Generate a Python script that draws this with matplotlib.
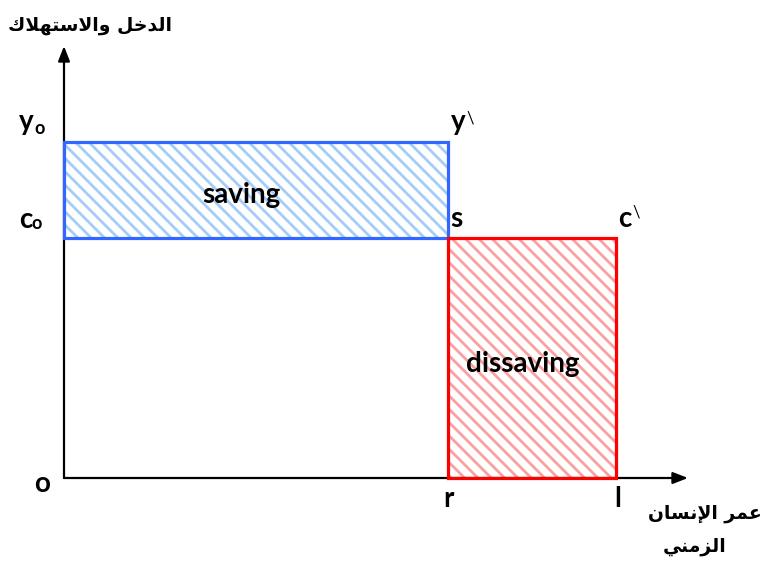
import matplotlib
matplotlib.use("Agg")
import matplotlib.pyplot as plt
from matplotlib.patches import Rectangle

# ---- data (abstract units) ----
x_r = 4.8          # retirement age r
x_l = 6.9          # end of life l
y_income = 4.2     # y0
y_cons = 3.0       # c0
x_axis_end = 7.8
y_axis_end = 5.4

title_y = "\uFED9\uFEFC\uFEEC\uFE98\uFEB3\uFEFB\uFE8D\uFEED \uFEDE\uFEA7\uFEAA\uFEDF\uFE8D"   # الدخل والاستهلاك
title_x1 = "\uFEE5\uFE8E\uFEB4\uFEE7\uFEF9\uFE8D \uFEAE\uFEE4\uFECB"                         # عمر الإنسان
title_x2 = "\uFEF2\uFEE8\uFEE3\uFEB0\uFEDF\uFE8D"                                           # الزمني

DPI = 80
S = 100 / DPI   # scale so pixel sizes match a 100-dpi layout
plt.rcParams['hatch.linewidth'] = 2.5

fig = plt.figure(figsize=(763 / DPI, 561 / DPI), dpi=DPI)
ax = fig.add_axes([0, 0, 1, 1])
ax.set_xlim(-0.8, 8.7375)
ax.set_ylim(-1.0375, 5.975)
ax.axis('off')

lab = dict(fontfamily=['Lato', 'DejaVu Sans'], fontweight='bold', fontsize=20 * S, color='black')
small = dict(fontfamily=['Lato', 'DejaVu Sans'], fontweight='bold', fontsize=13 * S, color='black')
ar = dict(fontfamily=['DejaVu Sans'], fontweight='bold', fontsize=13.5 * S, color='black')

# saving rectangle (blue)
ax.add_patch(Rectangle((0, y_cons), x_r, y_income - y_cons, facecolor='#ffffff',
                       edgecolor='#a3cdf8', hatch='\\\\', linewidth=0, zorder=1))
ax.add_patch(Rectangle((0, y_cons), x_r, y_income - y_cons, facecolor='none',
                       edgecolor='#3366ff', linewidth=2.3 * S, zorder=3))
# dissaving rectangle (red)
ax.add_patch(Rectangle((x_r, 0), x_l - x_r, y_cons, facecolor='#ffffff',
                       edgecolor='#fba0a0', hatch='\\\\', linewidth=0, zorder=1))
ax.add_patch(Rectangle((x_r, 0), x_l - x_r, y_cons, facecolor='none',
                       edgecolor='#ff0000', linewidth=2.3 * S, zorder=3))

# axes arrows
for tip in [(0, y_axis_end), (x_axis_end, 0)]:
    ax.annotate('', xy=tip, xytext=(0, 0),
                arrowprops=dict(arrowstyle='-|>,head_length=0.9,head_width=0.35', color='black',
                                lw=1.6 * S, shrinkA=0, shrinkB=0, mutation_scale=10 * S), zorder=2)

# labels
ax.text(-0.47, 4.35, 'y', ha='center', va='baseline', **lab)
ax.text(-0.31, 4.3, 'o', ha='center', va='baseline', **small)
ax.text(-0.475, 3.125, 'c', ha='center', va='baseline', **lab)
ax.text(-0.34, 3.11, 'o', ha='center', va='baseline', **small)
ax.text(-0.275, -0.175, 'o', ha='center', va='baseline', **lab)

ax.text(4.925, 4.35, 'y', ha='center', va='baseline', **lab)
ax.text(5.075, 4.5, '\\', ha='center', va='center', fontfamily=['Lato'], fontsize=12 * S)
ax.text(4.91, 3.14, 's', ha='center', va='baseline', **lab)
ax.text(7.01, 3.14, 'c', ha='center', va='baseline', **lab)
ax.text(7.15, 3.325, '\\', ha='center', va='center', fontfamily=['Lato'], fontsize=12 * S)
ax.text(4.81, -0.36, 'r', ha='center', va='baseline', **lab)
ax.text(6.925, -0.36, 'l', ha='center', va='baseline', **lab)

ax.text(2.22, 3.44, 'saving', ha='center', va='baseline', **lab)
ax.text(5.74, 1.325, 'dissaving', ha='center', va='baseline', **lab)

ax.text(1.35, 5.66, title_y, ha='right', va='center', **ar)
ax.text(8.725, -0.44, title_x1, ha='right', va='center', **ar)
ax.text(7.88, -0.86, title_x2, ha='center', va='center', **ar)

fig.savefig('out.png', dpi=DPI)
